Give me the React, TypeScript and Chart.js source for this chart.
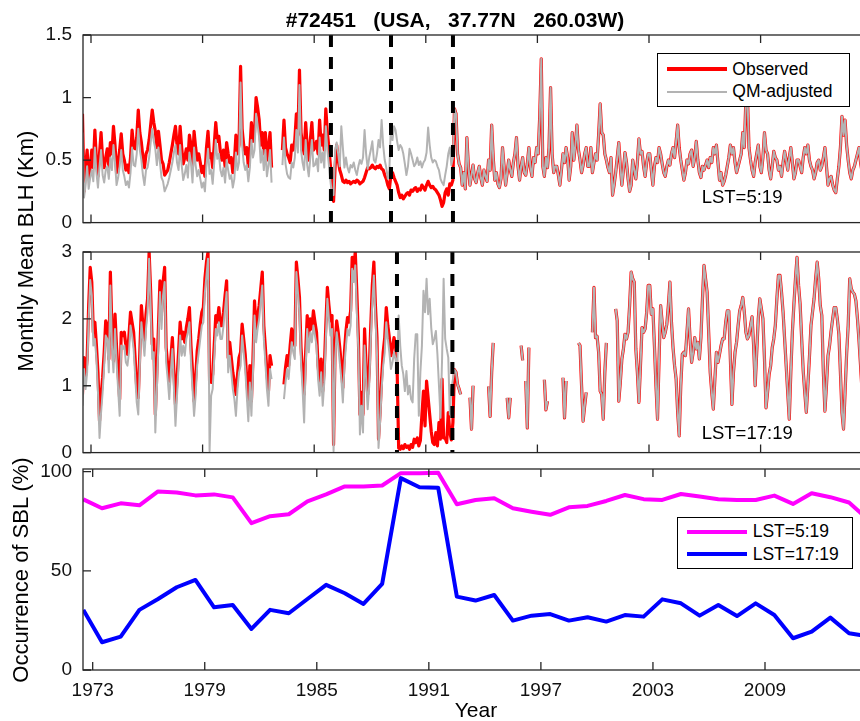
import React, { useEffect, useRef } from 'react';
import { Chart, registerables } from 'chart.js';

Chart.register(...registerables);

const FONT = "'Liberation Sans', Arial, Helvetica, sans-serif";

// ---------- axis ticks ----------
const X_TICKS = [1973, 1979, 1985, 1991, 1997, 2003, 2009];
const TOP_Y_TICKS = [0, 0.5, 1, 1.5];
const MID_Y_TICKS = [0, 1, 2, 3];
const SBL_Y_TICKS = [0, 50, 100];

// ---------- monthly series start (Jul 1972) ----------
const START_YEAR = 1972;
const START_MONTH = 7;

// ---------- break lines (year) ----------
const TOP_BREAKS = [1985.9, 1989.13, 1992.46];
const MID_BREAKS = [1989.45, 1992.43];

// ---------- LST=5:19 monthly mean BLH (km) ----------
// observed, Jul 1972 - Jun 1992
const TOP_OBS_EARLY = [
  0.87, 0.25, 0.45, 0.58, 0.35, 0.44,
  0.58, 0.44, 0.74, 0.50, 0.37, 0.55, 0.72, 0.50, 0.44, 0.52, 0.59, 0.45,
  0.64, 0.55, 0.77, 0.62, 0.40, 0.48, 0.58, 0.71, 0.55, 0.50, 0.42, 0.46,
  0.40, 0.52, 0.74, 0.60, 0.59, 0.68, 0.90, 0.72, 0.64, 0.52, 0.44, 0.55,
  0.58, 0.66, 0.78, 0.90, 0.80, 0.73, 0.60, 0.73, 0.62, 0.50, 0.47, 0.38,
  0.40, 0.42, 0.48, 0.55, 0.62, 0.70, 0.77, 0.62, 0.55, 0.77, 0.60, 0.47,
  0.52, 0.59, 0.50, 0.70, 0.62, 0.45, 0.73, 0.60, 0.50, 0.55, 0.48, 0.40,
  0.45, 0.37, 0.60, 0.73, 0.52, 0.55, 0.44, 0.62, 0.80, 0.65, 0.69, 0.56,
  0.50, 0.58, 0.45, 0.64, 0.55, 0.48, 0.52, 0.40, 0.48, 0.70, 0.55, 0.62,
  1.25, 0.75, 0.62, 0.55, 0.60, 0.45, 0.58, 0.80, 0.65, 0.72, 1.00, 0.92,
  0.82, 0.62, 0.72, 0.55, 0.72, 0.50, 0.60, 0.72, 0.44, null, null, null,
  null, null, null, 0.58, 0.82, 0.60, 0.55, 0.52, 0.48, 0.62, 0.58, 0.66,
  0.87, 0.70, 1.22, 0.72, 0.62, 0.55, 0.80, 0.60, 0.50, 0.66, 0.80, 0.58,
  0.60, 0.65, 0.55, 0.82, 0.62, 0.70, 0.58, 0.91, 0.72, 0.60, 0.45, 0.30,
  0.17, 0.45, 0.62, 0.50, 0.42, 0.38, 0.33, 0.32, 0.34, 0.32, 0.33, 0.31,
  0.32, 0.33, 0.32, 0.34, 0.33, 0.31, 0.32, 0.33, 0.36, 0.40, 0.44, 0.43,
  0.44, 0.46, 0.44, 0.43, 0.45, 0.44, 0.46, 0.43, 0.42, 0.38, 0.35, 0.30,
  0.27, 0.38, 0.40, 0.36, 0.33, 0.30, 0.24, 0.20, 0.22, 0.19, 0.21, 0.23,
  0.24, 0.22, 0.26, 0.25, 0.27, 0.28, 0.25, 0.27, 0.26, 0.30, 0.28, 0.26,
  0.30, 0.33, 0.30, 0.28, 0.29, 0.27, 0.26, 0.24, 0.22, 0.18, 0.13, 0.16,
  0.24, 0.27, 0.22, 0.31, 0.30, 0.34,
];
// QM-adjusted, Jul 1972 - Jun 1992
const TOP_ADJ_EARLY = [
  0.72, 0.20, 0.30, 0.45, 0.27, 0.36,
  0.42, 0.33, 0.60, 0.40, 0.28, 0.45, 0.58, 0.38, 0.32, 0.42, 0.45, 0.35,
  0.52, 0.42, 0.62, 0.48, 0.30, 0.36, 0.45, 0.58, 0.42, 0.37, 0.30, 0.33,
  0.28, 0.40, 0.60, 0.46, 0.45, 0.55, 0.75, 0.58, 0.50, 0.38, 0.30, 0.42,
  0.44, 0.52, 0.64, 0.75, 0.65, 0.59, 0.46, 0.60, 0.48, 0.36, 0.33, 0.25,
  0.28, 0.31, 0.36, 0.42, 0.48, 0.56, 0.62, 0.48, 0.42, 0.62, 0.46, 0.34,
  0.39, 0.46, 0.36, 0.56, 0.48, 0.32, 0.60, 0.46, 0.37, 0.42, 0.35, 0.28,
  0.32, 0.25, 0.46, 0.59, 0.39, 0.42, 0.31, 0.48, 0.66, 0.51, 0.55, 0.42,
  0.37, 0.44, 0.32, 0.50, 0.42, 0.35, 0.38, 0.28, 0.35, 0.56, 0.42, 0.48,
  1.12, 0.62, 0.48, 0.42, 0.46, 0.33, 0.44, 0.66, 0.52, 0.58, 0.87, 0.78,
  0.68, 0.48, 0.58, 0.42, 0.58, 0.37, 0.46, 0.58, 0.32, null, null, null,
  null, null, null, 0.46, 0.68, 0.47, 0.39, 0.36, 0.35, 0.48, 0.44, 0.52,
  0.74, 0.56, 1.10, 0.58, 0.48, 0.42, 0.66, 0.46, 0.37, 0.52, 0.66, 0.45,
  0.46, 0.51, 0.41, 0.68, 0.48, 0.56, 0.44, 0.77, 0.58, 0.46, 0.33, 0.22,
  0.22, 0.58, 0.64, 0.55, 0.45, 0.77, 0.60, 0.44, 0.52, 0.44, 0.40, 0.46,
  0.44, 0.48, 0.42, 0.38, 0.45, 0.50, 0.47, 0.52, 0.74, 0.55, 0.43, 0.52,
  0.58, 0.65, 0.50, 0.48, 0.55, 0.66, 0.60, 0.82, 0.62, 0.50, 0.44, 0.35,
  0.42, 0.79, 0.66, 0.77, 0.74, 0.65, 0.58, 0.62, 0.60, 0.55, 0.47, 0.38,
  0.45, 0.59, 0.55, 0.50, 0.45, 0.47, 0.52, 0.46, 0.49, 0.44, 0.48, 0.50,
  0.56, 0.76, 0.62, 0.52, 0.48, 0.50, 0.49, 0.45, 0.42, 0.35, 0.32, 0.30,
  0.38, 0.45, 0.55, 0.60, 0.46, 0.52,
];
// observed = QM-adjusted, Jul 1992 - Dec 2014
const TOP_LATE = [
  0.91, 0.87, 0.55, 0.47, 0.44, 0.30,
  0.40, 0.27, 0.68, 0.45, 0.30, 0.38, 0.46, 0.35, 0.32, 0.40, 0.45, 0.36,
  0.30, 0.42, 0.37, 0.33, 0.50, 0.42, 0.78, 0.52, 0.34, 0.40, 0.31, 0.28,
  0.35, 0.60, 0.45, 0.30, 0.40, 0.50, 0.42, 0.37, 0.48, 0.55, 0.68, 0.45,
  0.34, 0.45, 0.52, 0.40, 0.38, 0.47, 0.60, 0.44, 0.37, 0.52, 0.48, 0.60,
  0.55, 0.85, 1.31, 0.45, 0.37, 0.52, 0.44, 0.60, 1.08, 0.55, 0.40, 0.45,
  0.45, 0.38, 0.30, 0.42, 0.55, 0.48, 0.60, 0.52, 0.34, 0.45, 0.72, 0.50,
  0.62, 0.78, 0.58, 0.50, 0.40, 0.46, 0.55, 0.60, 0.45, 0.45, 0.60, 0.40,
  0.48, 0.55, 0.50, 0.70, 0.95, 0.72, 0.70, 0.55, 0.50, 0.44, 0.40, 0.52,
  0.22, 0.30, 0.40, 0.52, 0.64, 0.45, 0.30, 0.42, 0.56, 0.48, 0.35, 0.25,
  0.30, 0.50, 0.42, 0.35, 0.48, 0.67, 0.55, 0.57, 0.45, 0.37, 0.48, 0.55,
  0.55, 0.42, 0.30, 0.45, 0.52, 0.48, 0.60, 0.55, 0.47, 0.40, 0.37, 0.45,
  0.50, 0.46, 0.55, 0.60, 0.52, 0.65, 0.78, 0.60, 0.50, 0.42, 0.34, 0.40,
  0.50, 0.47, 0.55, 0.58, 0.45, 0.52, 0.65, 0.50, 0.40, 0.36, 0.45, 0.42,
  0.46, 0.50, 0.44, 0.52, 0.48, 0.60, 0.55, 0.62, 0.48, 0.34, 0.40, 0.30,
  0.33, 0.38, 0.45, 0.52, 0.62, 0.55, 0.60, 0.48, 0.40, 0.45, 0.50, 0.55,
  0.72, 0.60, 0.98, 1.02, 0.60, 0.50, 0.42, 0.37, 0.48, 0.55, 0.62, 0.45,
  0.40, 0.52, 0.72, 0.58, 0.55, 0.42, 0.35, 0.45, 0.57, 0.52, 0.50, 0.42,
  0.45, 0.37, 0.48, 0.57, 0.50, 0.42, 0.52, 0.60, 0.48, 0.35, 0.40, 0.50,
  0.50, 0.45, 0.40, 0.52, 0.60, 0.55, 0.62, 0.50, 0.45, 0.42, 0.35, 0.40,
  0.48, 0.50, 0.42, 0.45, 0.52, 0.60, 0.45, 0.30, 0.35, 0.37, 0.30, 0.26,
  0.24, 0.35, 0.45, 0.60, 0.85, 0.70, 0.82, 0.62, 0.50, 0.40, 0.35, 0.42,
  0.45, 0.50, 0.55, 0.60, 0.48, 0.40, 0.45, 0.52, 0.38, 0.46, 0.55, 0.42,
];

// ---------- LST=17:19 monthly mean BLH (km) ----------
const MID_OBS_EARLY = [
  0.87, 1.42, 1.15, 1.40, 2.20, 2.77,
  2.55, 1.80, 1.95, 1.60, 1.20, 0.47, 0.85, 1.12, 1.50, 1.97, 1.90, 1.40,
  2.70, 1.85, 1.37, 2.07, 1.57, 1.20, 0.80, 1.80, 1.75, 1.80, 1.60, 1.47,
  1.75, 2.10, 1.95, 1.80, 1.40, 0.97, 0.82, 1.50, 2.20, 1.90, 1.67, 2.07,
  2.30, 3.00, 2.40, 1.62, 1.70, 0.57, 1.20, 1.87, 2.57, 2.10, 2.55, 2.77,
  1.57, 1.30, 1.07, 1.40, 1.72, 1.20, 0.72, 1.10, 1.50, 1.95, 1.70, 1.80,
  1.65, 1.87, 2.00, 2.17, 1.60, 1.22, 0.77, 1.10, 1.52, 1.70, 1.92, 2.10,
  2.17, 2.60, 2.85, 3.00, 1.07, 1.05, 1.17, 1.60, 2.05, 1.95, 2.17, 1.90,
  1.90, 2.10, 2.35, 2.57, 1.42, 1.65, 1.42, 1.20, 1.05, 0.87, 1.15, 1.42,
  1.50, 1.92, 1.70, 1.47, 1.10, 0.77, 1.30, 0.77, 1.40, 2.27, 1.85, 2.05,
  2.20, 2.45, 2.70, 1.90, 1.57, 1.20, 0.92, 1.45, 1.30, null, null, null,
  null, null, null, null, 1.02, 1.27, 1.45, 1.30, 1.60, 1.85, 1.70, 1.60,
  2.85, 2.60, 2.32, 1.57, 1.20, 0.87, 1.50, 2.05, 1.70, 2.00, 1.85, 2.12,
  1.95, 1.80, 1.30, 1.07, 1.40, 0.92, 1.25, 1.90, 2.47, 2.20, 1.97, 2.05,
  0.12, 1.60, 1.97, 1.80, 1.57, 1.30, 0.97, 1.50, 1.82, 2.02, 1.95, 2.12,
  2.92, 2.75, 3.00, 2.40, 1.72, 0.57, 0.90, 0.57, 1.85, 1.30, 0.87, 1.20,
  1.90, 2.50, 2.85, 2.20, 1.72, 0.20, 0.60, 1.12, 1.50, 1.72, 2.17, 1.90,
  1.72, 1.45, 1.57, 1.72, 1.60, 1.25, 0.07, 0.05, 0.10, 0.06, 0.12, 0.08,
  0.10, 0.05, 0.12, 0.08, 0.20, 0.15, 0.22, 0.10, 0.18, 0.57, 0.92, 0.40,
  1.07, 0.82, 0.57, 0.32, 0.15, 0.12, 0.30, 0.10, 0.45, 0.20, 1.10, 0.22,
  0.22, 0.15, 0.60, 0.30, 0.19, 0.45,
];
const MID_ADJ_EARLY = [
  0.70, 1.25, 0.95, 1.20, 2.00, 2.58,
  2.35, 1.60, 1.70, 1.40, 0.90, 0.22, 0.60, 0.90, 1.30, 1.75, 1.70, 1.20,
  2.50, 1.60, 1.20, 1.85, 1.35, 0.95, 0.55, 1.60, 1.55, 1.60, 1.35, 1.30,
  1.50, 1.90, 1.75, 1.55, 1.15, 0.75, 0.57, 1.30, 1.95, 1.70, 1.45, 1.85,
  2.10, 2.90, 2.20, 1.40, 1.50, 0.30, 0.95, 1.65, 2.40, 1.85, 2.35, 2.55,
  1.35, 1.10, 0.80, 1.20, 1.55, 0.95, 0.40, 0.85, 1.30, 1.75, 1.45, 1.60,
  1.45, 1.70, 1.80, 1.95, 1.35, 0.95, 0.55, 0.85, 1.30, 1.50, 1.70, 1.90,
  1.95, 2.40, 2.65, 2.90, 0.02, 0.85, 0.95, 1.40, 1.85, 1.75, 1.95, 1.70,
  1.70, 1.90, 2.15, 2.40, 1.20, 1.45, 1.20, 0.95, 0.80, 0.55, 0.95, 1.20,
  1.30, 1.75, 1.50, 1.25, 0.85, 0.47, 1.05, 0.55, 1.20, 2.05, 1.65, 1.85,
  2.00, 2.25, 2.50, 1.70, 1.35, 0.95, 0.70, 1.25, 1.10, null, null, null,
  null, null, null, null, 0.80, 1.05, 1.25, 1.10, 1.40, 1.65, 1.50, 1.40,
  2.70, 2.40, 2.10, 1.35, 0.95, 0.45, 1.30, 1.85, 1.50, 1.80, 1.65, 1.90,
  1.75, 1.60, 1.10, 0.85, 1.20, 0.70, 1.05, 1.70, 2.30, 2.00, 1.75, 1.85,
  0.02, 1.40, 1.80, 1.60, 1.35, 1.10, 0.75, 1.30, 1.60, 1.85, 1.75, 1.90,
  2.75, 2.55, 2.80, 2.10, 1.55, 0.27, 0.70, 0.30, 1.60, 1.10, 0.65, 1.00,
  1.70, 2.25, 2.65, 2.00, 1.50, 0.07, 0.45, 0.95, 1.30, 1.50, 1.95, 1.70,
  1.50, 1.25, 1.35, 1.50, 1.40, 1.20, 2.05, 1.60, 1.30, 1.17, 0.92, 1.22,
  0.87, 1.00, 0.80, 0.75, 1.40, 1.77, 1.77, 0.55, 1.20, 1.60, 2.42, 2.10,
  2.60, 2.07, 2.30, 1.87, 1.62, 1.70, 1.82, 1.47, 1.00, 0.52, 1.40, 2.60,
  1.70, 1.55, 1.42, 0.57, 0.95, 1.10,
];
const MID_LATE = [
  1.24, 1.20, 1.02, 0.95, 0.87, null,
  null, null, null, null, 0.82, 0.35, 1.00, null, null, null, null, null,
  null, null, null, null, 0.99, 0.54, 1.20, 1.64, null, null, null, null,
  null, null, null, null, 0.82, 0.52, 0.82, null, null, null, null, null,
  null, 1.60, 1.38, null, 1.07, 0.37, 1.57, null, null, null, null, null,
  null, null, null, null, 1.09, 0.64, 0.77, null, null, null, null, null,
  null, null, null, null, 1.12, 0.52, 1.07, null, null, null, null, null,
  null, null, 1.64, 1.60, 1.00, 0.47, 0.70, 0.90, null, null, null, 1.80,
  2.47, 1.72, 1.74, 1.50, 0.92, 0.87, 0.50, 1.20, 1.64, null, null, null,
  null, null, 2.15, 1.97, 0.77, 1.05, 1.40, 1.55, 1.77, 1.70, 1.80, 2.20,
  2.70, 2.60, 2.55, 1.55, 1.20, 0.75, 1.30, 1.87, 1.80, 1.85, 2.10, 2.50,
  2.50, 2.07, 2.15, 1.60, 1.00, 0.50, 1.40, 2.20, 1.95, 1.72, 1.80, 1.92,
  2.20, 2.55, 1.95, 1.57, 1.30, 1.10, 0.60, 0.25, 1.00, 1.47, 1.50, 1.45,
  1.80, 2.15, 1.70, 1.35, 1.50, 1.72, 1.55, 1.65, 1.40, 1.72, 2.30, 2.80,
  2.60, 2.40, 1.80, 1.20, 0.90, 0.65, 1.10, 1.50, 1.35, 1.47, 1.60, 1.70,
  1.70, 1.95, 2.12, 2.12, 1.40, 0.72, 1.20, 1.50, 1.65, 1.90, 2.12, 2.20,
  2.32, 2.10, 1.80, 1.70, 1.75, 1.90, 2.03, 1.60, 1.00, 1.50, 2.00, 2.30,
  2.15, 2.00, 1.40, 0.67, 0.90, 1.17, 1.30, 1.57, 1.70, 1.90, 2.30, 2.65,
  2.65, 2.40, 2.10, 1.70, 1.30, 0.90, 0.50, 1.20, 1.80, 2.22, 2.60, 2.92,
  2.50, 2.22, 1.70, 1.22, 0.90, 0.60, 1.00, 1.42, 1.90, 2.10, 2.30, 2.60,
  2.85, 2.60, 2.20, 2.05, 1.20, 0.62, 1.00, 1.45, 1.60, 1.82, 2.00, 2.17,
  2.17, 2.00, 1.77, 1.20, 0.60, 0.35, 0.90, 1.47, 1.90, 2.60, 2.45, 2.40,
  2.37, 2.27, 2.00, 1.67, 1.30, 0.90, 0.60, 1.00, 1.50, 1.90, 2.20, 2.40,
];

// ---------- yearly occurrence of SBL (%) ----------
const SBL_YEARS = [
  1972, 1973, 1974, 1975, 1976, 1977, 1978, 1979, 1980, 1981, 1982,
  1983, 1984, 1985, 1986, 1987, 1988, 1989, 1990, 1991, 1992, 1993,
  1994, 1995, 1996, 1997, 1998, 1999, 2000, 2001, 2002, 2003, 2004,
  2005, 2006, 2007, 2008, 2009, 2010, 2011, 2012, 2013, 2014,
];
const SBL_LST5 = [
  86, 81.5, 84, 83, 90, 89.5, 88, 88.5, 87, 74, 77.5,
  78.5, 85, 88.5, 92.5, 92.5, 93, 99.2, 99.2, 99.4, 83.5, 85.7,
  86.6, 81.5, 79.8, 78.2, 82, 82.7, 85.2, 88.2, 86.1, 85.7, 88.7,
  87.4, 86.1, 85.7, 85.7, 87.9, 83.7, 89.1, 87.1, 84.4, 76,
];
const SBL_LST17 = [
  30.3, 14, 16.8, 30.3, 35.8, 41.7, 45.4, 31.6, 32.8, 20.7, 30.3,
  28.6, 35.8, 42.9, 38.7, 33.3, 43.4, 96.7, 92.1, 91.9, 37, 35,
  37.8, 24.9, 27.4, 28.2, 24.9, 26.6, 24.4, 27.7, 26.9, 35.6, 33.6,
  27.4, 32.8, 27.2, 33.6, 27.7, 16, 19.3, 26.4, 18.5, 17,
];

// ---------- helpers ----------
type Pt = { x: number; y: number | null };
const monthly = (vals: (number | null)[]): Pt[] =>
  vals.map((v, i) => ({ x: START_YEAR + (START_MONTH - 1 + i + 0.5) / 12, y: v }));
const yearly = (years: number[], vals: number[]): Pt[] =>
  years.map((yr, i) => ({ x: yr + 0.5, y: vals[i] }));

const AXIS_COLOR = '#262626';
const TICK_FONT = { family: FONT, size: 19 };

const framePlugin = {
  id: 'frame',
  afterDraw(chart: any, _args: any, opts: any) {
    const { ctx, chartArea } = chart;
    const { left, top, right, bottom } = chartArea;
    const xs = chart.scales.x;
    const ys = chart.scales.y;
    ctx.save();
    ctx.strokeStyle = AXIS_COLOR;
    ctx.lineWidth = 1.3;
    ctx.strokeRect(left, top, right - left, bottom - top);
    const tl = 8;
    ctx.beginPath();
    (opts.xTicks as number[]).forEach((v) => {
      const px = xs.getPixelForValue(v);
      if (px < left || px > right) return;
      ctx.moveTo(px, bottom);
      ctx.lineTo(px, bottom - tl);
      ctx.moveTo(px, top);
      ctx.lineTo(px, top + tl);
    });
    (opts.yTicks as number[]).forEach((v) => {
      const py = ys.getPixelForValue(v);
      ctx.moveTo(left, py);
      ctx.lineTo(left + tl, py);
    });
    ctx.stroke();
    ctx.restore();
  },
};

const yAxis = (min: number, max: number, ticks: number[]) => ({
  type: 'linear',
  min,
  max,
  afterFit: (s: any) => {
    s.width = 83;
  },
  afterBuildTicks: (s: any) => {
    s.ticks = ticks.map((v) => ({ value: v }));
  },
  grid: { display: false, drawTicks: false },
  border: { display: false },
  ticks: {
    font: TICK_FONT,
    color: '#111',
    padding: 11,
    autoSkip: false,
    callback: (v: any) => String(v),
  },
});

const breakSets = (years: number[], ymax: number) =>
  years.map((yr) => ({
    label: 'break',
    data: [
      { x: yr, y: ymax },
      { x: yr, y: 0 },
    ],
    borderColor: '#000',
    borderWidth: 4,
    borderDash: [12, 10],
    borderCapStyle: 'butt',
    pointRadius: 0,
    order: -1,
  }));

const baseOptions = {
  responsive: false,
  animation: false,
  events: [],
  plugins: { legend: { display: false }, tooltip: { enabled: false } },
};

const TOP_X_MIN = 1972.57;
const TOP_X_MAX = 2016.495;
const SBL_X_MIN = 1972.481;
const SBL_X_MAX = 2016.229;

function makeTop(): any {
  return {
    type: 'line',
    data: {
      datasets: [
        {
          label: 'QM-adjusted',
          data: monthly([...TOP_ADJ_EARLY, ...TOP_LATE]),
          borderColor: '#B3B3B3',
          borderWidth: 2,
          pointRadius: 0,
          spanGaps: false,
          borderJoinStyle: 'round',
          order: 0,
        },
        {
          label: 'Observed',
          data: monthly([...TOP_OBS_EARLY, ...TOP_LATE]),
          borderColor: '#FF0000',
          borderWidth: 3.2,
          pointRadius: 0,
          spanGaps: false,
          borderJoinStyle: 'round',
          order: 1,
        },
        ...breakSets(TOP_BREAKS, 1.5),
      ],
    },
    options: {
      ...baseOptions,
      layout: { padding: { top: 35, bottom: 9, left: 0, right: 0 } },
      scales: {
        x: { type: 'linear', min: TOP_X_MIN, max: TOP_X_MAX, display: false },
        y: yAxis(0, 1.5, TOP_Y_TICKS),
      },
      plugins: { ...baseOptions.plugins, frame: { xTicks: X_TICKS, yTicks: TOP_Y_TICKS } },
    },
    plugins: [framePlugin],
  };
}

function makeMid(): any {
  return {
    type: 'line',
    data: {
      datasets: [
        {
          label: 'QM-adjusted',
          data: monthly([...MID_ADJ_EARLY, ...MID_LATE]),
          borderColor: '#B3B3B3',
          borderWidth: 2,
          pointRadius: 0,
          spanGaps: false,
          borderJoinStyle: 'round',
          order: 0,
        },
        {
          label: 'Observed',
          data: monthly([...MID_OBS_EARLY, ...MID_LATE]),
          borderColor: '#FF0000',
          borderWidth: 3.2,
          pointRadius: 0,
          spanGaps: false,
          borderJoinStyle: 'round',
          order: 1,
        },
        ...breakSets(MID_BREAKS, 3),
      ],
    },
    options: {
      ...baseOptions,
      layout: { padding: { top: 27, bottom: 22, left: 0, right: 0 } },
      scales: {
        x: { type: 'linear', min: TOP_X_MIN, max: TOP_X_MAX, display: false },
        y: yAxis(0, 3, MID_Y_TICKS),
      },
      plugins: { ...baseOptions.plugins, frame: { xTicks: X_TICKS, yTicks: MID_Y_TICKS } },
    },
    plugins: [framePlugin],
  };
}

function makeSbl(): any {
  return {
    type: 'line',
    data: {
      datasets: [
        {
          label: 'LST=5:19',
          data: yearly(SBL_YEARS, SBL_LST5),
          borderColor: '#FF00FF',
          borderWidth: 4,
          pointRadius: 0,
          borderJoinStyle: 'round',
        },
        {
          label: 'LST=17:19',
          data: yearly(SBL_YEARS, SBL_LST17),
          borderColor: '#0000FF',
          borderWidth: 4,
          pointRadius: 0,
          borderJoinStyle: 'round',
        },
      ],
    },
    options: {
      ...baseOptions,
      layout: { padding: { top: 29, bottom: 0, left: 0, right: 0 } },
      scales: {
        x: {
          type: 'linear',
          min: SBL_X_MIN,
          max: SBL_X_MAX,
          afterFit: (s: any) => {
            s.height = 51;
          },
          afterBuildTicks: (s: any) => {
            s.ticks = X_TICKS.map((v) => ({ value: v }));
          },
          grid: { display: false, drawTicks: false },
          border: { display: false },
          ticks: {
            font: TICK_FONT,
            color: '#111',
            padding: 9,
            maxRotation: 0,
            autoSkip: false,
            callback: (v: any) => String(v),
          },
        },
        y: yAxis(0, 101.3, SBL_Y_TICKS),
      },
      plugins: { ...baseOptions.plugins, frame: { xTicks: X_TICKS, yTicks: SBL_Y_TICKS } },
    },
    plugins: [framePlugin],
  };
}

function Panel({ top, height, make }: { top: number; height: number; make: () => any }) {
  const ref = useRef<HTMLCanvasElement>(null);
  useEffect(() => {
    const chart = new Chart(ref.current as HTMLCanvasElement, make());
    return () => chart.destroy();
  }, []);
  return (
    <canvas
      ref={ref}
      width={900}
      height={height}
      style={{ position: 'absolute', left: 0, top, width: 900, height }}
    />
  );
}

// text placed by its baseline
function Txt({
  x,
  base,
  size,
  bold,
  center,
  children,
}: {
  x: number;
  base: number;
  size: number;
  bold?: boolean;
  center?: boolean;
  children: React.ReactNode;
}) {
  return (
    <div
      style={{
        position: 'absolute',
        left: x,
        top: base - 0.8465 * size,
        fontSize: size,
        lineHeight: 1,
        fontWeight: bold ? 'bold' : 'normal',
        whiteSpace: 'pre',
        transform: center ? 'translateX(-50%)' : undefined,
        color: '#000',
      }}
    >
      {children}
    </div>
  );
}

function VTxt({ cx, cy, size, children }: { cx: number; cy: number; size: number; children: React.ReactNode }) {
  return (
    <div
      style={{
        position: 'absolute',
        left: cx,
        top: cy,
        fontSize: size,
        lineHeight: 1,
        whiteSpace: 'pre',
        transform: 'translate(-50%, -50%) rotate(-90deg)',
        color: '#000',
      }}
    >
      {children}
    </div>
  );
}

function LegendLine({ x1, x2, y, w, color }: { x1: number; x2: number; y: number; w: number; color: string }) {
  return (
    <div
      style={{
        position: 'absolute',
        left: x1,
        top: y - w / 2,
        width: x2 - x1,
        height: w,
        background: color,
      }}
    />
  );
}

export default function App() {
  useEffect(() => {
    document.body.style.overflow = 'hidden';
  }, []);
  return (
    <div
      style={{
        position: 'absolute',
        left: 0,
        top: 0,
        width: 860,
        height: 721,
        overflow: 'hidden',
        background: '#fff',
        fontFamily: FONT,
      }}
    >
      <Panel top={0} height={245} make={makeTop} />
      <Panel top={225} height={250} make={makeMid} />
      <Panel top={440} height={281} make={makeSbl} />

      <Txt x={455} base={26.7} size={21} bold center>
        {'#72451   (USA,   37.77N   260.03W)'}
      </Txt>

      <VTxt cx={25.7} cy={251} size={22}>
        Monthly Mean BLH (Km)
      </VTxt>
      <VTxt cx={20.7} cy={570} size={22}>
        Occurrence of SBL (%)
      </VTxt>
      <Txt x={476} base={717} size={21} center>
        Year
      </Txt>

      <Txt x={701.7} base={203.3} size={18.5}>
        LST=5:19
      </Txt>
      <Txt x={701.7} base={440} size={18.5}>
        LST=17:19
      </Txt>

      {/* legend, top panel */}
      <div
        style={{
          position: 'absolute',
          left: 656.5,
          top: 53.3,
          width: 193.5,
          height: 53.7,
          border: '1px solid #000',
          background: '#fff',
          boxSizing: 'border-box',
        }}
      />
      <LegendLine x1={666.7} x2={727.3} y={69.3} w={4} color="#FF0000" />
      <LegendLine x1={666.7} x2={727.3} y={91.7} w={2} color="#B3B3B3" />
      <Txt x={732.3} base={76} size={17.5}>
        Observed
      </Txt>
      <Txt x={732.3} base={98} size={17.5}>
        QM-adjusted
      </Txt>

      {/* legend, bottom panel */}
      <div
        style={{
          position: 'absolute',
          left: 676.7,
          top: 516.7,
          width: 176.6,
          height: 52.6,
          border: '1px solid #000',
          background: '#fff',
          boxSizing: 'border-box',
        }}
      />
      <LegendLine x1={686.7} x2={746.7} y={532.3} w={4} color="#FF00FF" />
      <LegendLine x1={686.7} x2={746.7} y={554.3} w={4} color="#0000FF" />
      <Txt x={752.7} base={538.3} size={17.5}>
        LST=5:19
      </Txt>
      <Txt x={752.7} base={560.7} size={17.5}>
        LST=17:19
      </Txt>
    </div>
  );
}
